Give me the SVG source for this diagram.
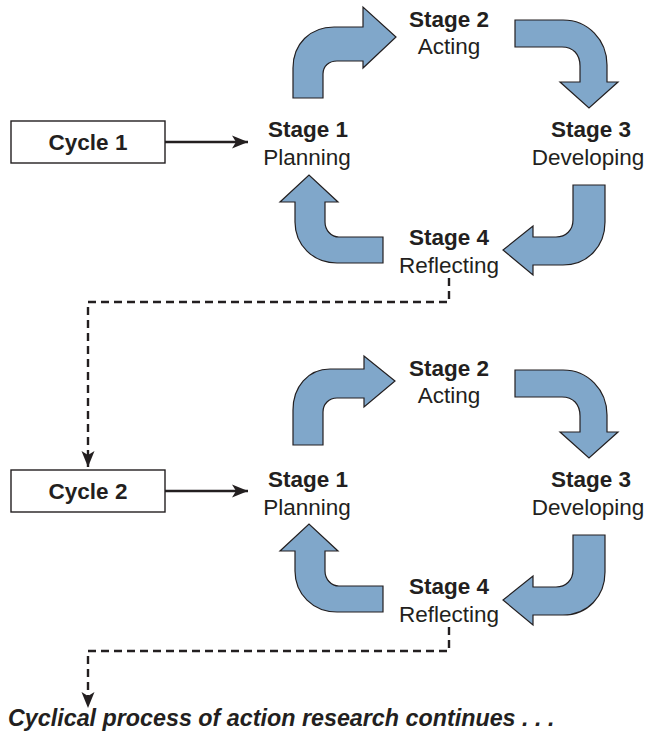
<svg xmlns="http://www.w3.org/2000/svg" xmlns:xlink="http://www.w3.org/1999/xlink" width="648" height="735" viewBox="0 0 648 735">
<style>
text{font-family:"Liberation Sans",Arial,Helvetica,sans-serif;fill:#231f20;font-size:22.5px}
.b{font-weight:bold}
.m{text-anchor:middle}
.blk{fill:#80a7ca;stroke:#231f20;stroke-width:1.2;stroke-linejoin:miter}
.box{fill:#fff;stroke:#231f20;stroke-width:1.4}
.ln{fill:none;stroke:#231f20;stroke-width:2.4;marker-end:url(#ah)}
.dash{stroke-dasharray:8 5}
.cap{font-weight:bold;font-style:italic;font-size:23.3px}
</style>
<defs>
<marker id="ah" viewBox="-17 -7 18 14" refX="0" refY="0" markerWidth="18" markerHeight="14" markerUnits="userSpaceOnUse" orient="auto">
<path d="M0,0 L-16,-6.5 L-12,0 L-16,6.5 Z" fill="#231f20"/>
</marker>
<path id="a2" class="blk" d="M515,20 L563,20 C588,20 607,40 607,65 L607,82 L618,82 L589,108 L560,82 L580,82 L580,66 C580,54 573,47 562,47 L515,47 Z"/>
<path id="a3" class="blk" d="M573,185 L605,185 L605,222 C605,246 588,265 563,265 L533,265 L533,275 L503,250 L533,226 L533,237 L556,237 C566,237 573,230 573,220 Z"/>
<path id="a4" class="blk" d="M383,237 L383,263 L337,263 C313,263 295,245 295,222 L295,202 L280,202 L309,175 L338,202 L325,202 L325,222 C325,230 331,237 339,237 Z"/>
</defs>

<g id="connectors">
<path id="c1-a1" class="blk" d="M293,98 L293,68 C293,44 310,27 334,27 L363,27 L363,7 L396,37 L363,68 L363,61 L337,61 C329,61 323,66 323,74 L323,98 Z"/>
<use id="c1-a2" xlink:href="#a2"/>
<use id="c1-a3" xlink:href="#a3"/>
<use id="c1-a4" xlink:href="#a4"/>
<path id="c2-a1" class="blk" d="M293,445 L293,410 C293,387 308,369 330,369 L364,369 L364,356 L395,381 L364,407 L364,398 L337,398 C329,398 323,404 323,412 L323,445 Z"/>
<use id="c2-a2" xlink:href="#a2" transform="translate(0,350)"/>
<use id="c2-a3" xlink:href="#a3" transform="translate(0,350)"/>
<use id="c2-a4" xlink:href="#a4" transform="translate(0,349)"/>
<path id="e-c1" class="ln" d="M165,142 H248"/>
<path id="e-c2" class="ln" d="M165,491 H248"/>
<path id="e-d1" class="ln dash" d="M449,278 V302 H88 V467"/>
<path id="e-d2" class="ln dash" d="M449,627 V651 H88 V708"/>
</g>

<g id="cycle1">
<rect class="box" x="11" y="121" width="154" height="42"/>
<text class="b m" x="88" y="150">Cycle 1</text>
</g>
<g id="c1-stage1">
<text class="b m" x="308" y="137">Stage 1</text>
<text class="m" x="307" y="165">Planning</text>
</g>
<g id="c1-stage2">
<text class="b m" x="449" y="27">Stage 2</text>
<text class="m" x="449" y="54">Acting</text>
</g>
<g id="c1-stage3">
<text class="b m" x="591" y="137">Stage 3</text>
<text class="m" x="588" y="165">Developing</text>
</g>
<g id="c1-stage4">
<text class="b m" x="449" y="245">Stage 4</text>
<text class="m" x="449" y="273">Reflecting</text>
</g>

<g id="cycle2">
<rect class="box" x="11" y="470" width="154" height="42"/>
<text class="b m" x="88" y="499">Cycle 2</text>
</g>
<g id="c2-stage1">
<text class="b m" x="308" y="487">Stage 1</text>
<text class="m" x="307" y="515">Planning</text>
</g>
<g id="c2-stage2">
<text class="b m" x="449" y="376">Stage 2</text>
<text class="m" x="449" y="403">Acting</text>
</g>
<g id="c2-stage3">
<text class="b m" x="591" y="487">Stage 3</text>
<text class="m" x="588" y="515">Developing</text>
</g>
<g id="c2-stage4">
<text class="b m" x="449" y="594">Stage 4</text>
<text class="m" x="449" y="622">Reflecting</text>
</g>

<g id="caption">
<text class="cap" x="8" y="726">Cyclical process of action research continues . . .</text>
</g>
</svg>
